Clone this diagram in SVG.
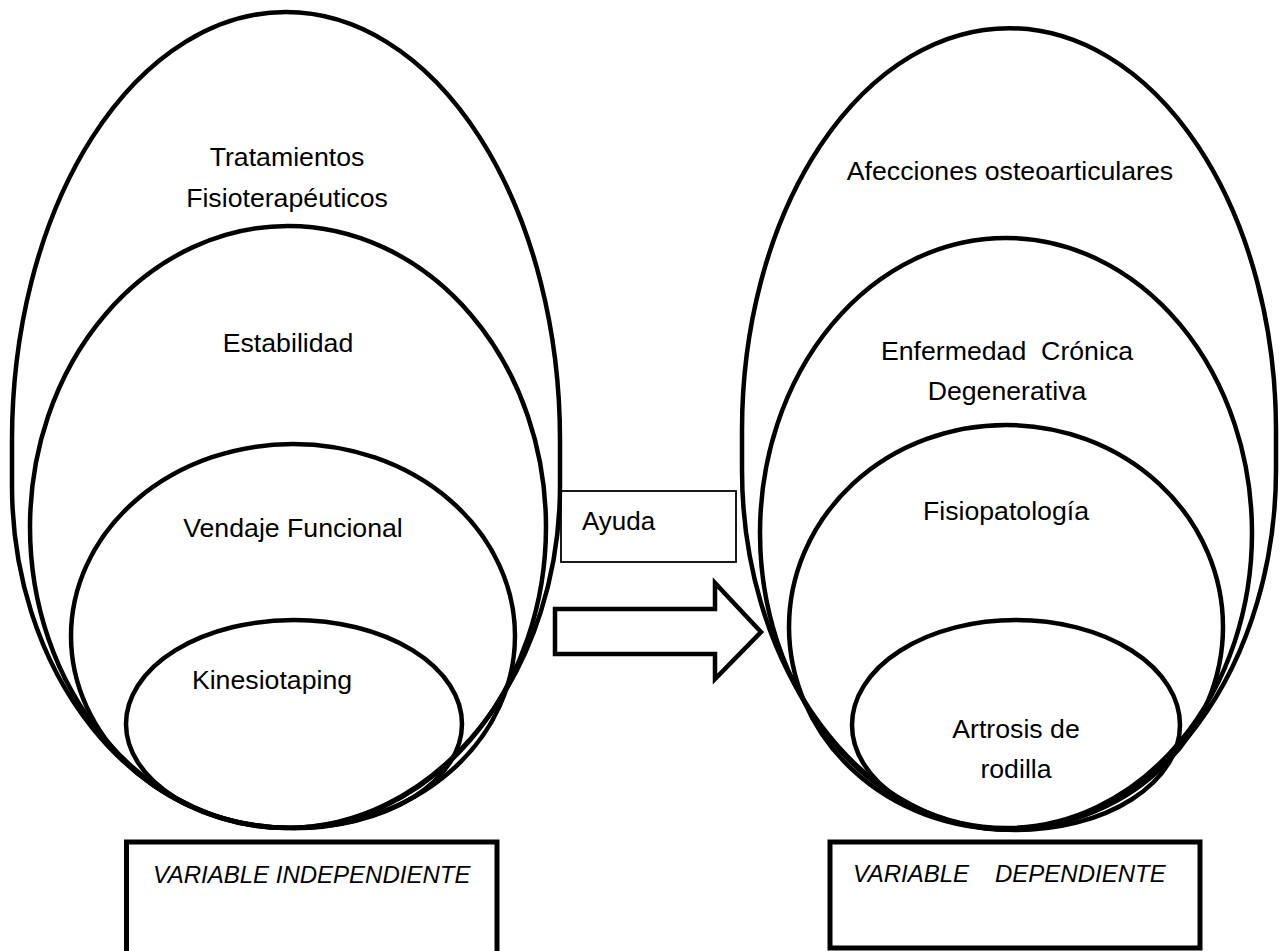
<svg xmlns="http://www.w3.org/2000/svg" width="1283" height="951" viewBox="0 0 1283 951">
<style>
.ov{fill:none;stroke:#000;stroke-width:4.5}
.t{font-family:"Liberation Sans",Arial,sans-serif;font-size:26.7px;fill:#000;text-anchor:middle}
.v{font-family:"Liberation Sans",Arial,sans-serif;font-size:24px;font-style:italic;fill:#000}
.box{fill:none;stroke:#000;stroke-width:5}
</style>
<rect width="1283" height="951" fill="#fff"/>
<g id="left">
<g id="n-tratamientos"><path class="ov" d="M12,440 A274,428 0 0 1 560,440 L560,486 A274,342 0 0 1 12,486 Z"/>
<text class="t" x="287" y="166">Tratamientos</text><text class="t" x="287" y="207">Fisioterapéuticos</text></g>
<g id="n-estabilidad"><ellipse class="ov" cx="288" cy="527" rx="258" ry="301"/>
<text class="t" x="288" y="352">Estabilidad</text></g>
<g id="n-vendaje"><ellipse class="ov" cx="293" cy="636" rx="222" ry="192"/>
<text class="t" x="293" y="537">Vendaje Funcional</text></g>
<g id="n-kinesio"><ellipse class="ov" cx="294" cy="724" rx="168" ry="104"/>
<text class="t" x="272" y="689">Kinesiotaping</text></g>
</g>
<g id="right">
<g id="n-afecciones"><path class="ov" d="M742,430 A267,402 0 0 1 1276,430 L1276,470 A267,360 0 0 1 742,470 Z"/>
<text class="t" x="1010" y="180">Afecciones osteoarticulares</text></g>
<g id="n-enfermedad"><ellipse class="ov" cx="1006" cy="533" rx="246" ry="295"/>
<text class="t" x="1007" y="360" xml:space="preserve">Enfermedad  Crónica</text><text class="t" x="1007" y="400">Degenerativa</text></g>
<g id="n-fisiopatologia"><ellipse class="ov" cx="1006" cy="627" rx="217" ry="202"/>
<text class="t" x="1006" y="520">Fisiopatología</text></g>
<g id="n-artrosis"><ellipse class="ov" cx="1016" cy="725" rx="164" ry="105"/>
<text class="t" x="1016" y="738">Artrosis de</text><text class="t" x="1016" y="778">rodilla</text></g>
</g>
<g id="n-ayuda"><rect x="561" y="491" width="175" height="71" fill="none" stroke="#000" stroke-width="1.8"/>
<text class="t" x="582" y="530" style="text-anchor:start;font-size:26px">Ayuda</text></g>
<g id="connectors">
<polygon points="555,609 715,609 715,583 761,632 715,679 715,654 555,654" fill="#fff" stroke="#000" stroke-width="4.5"/>
</g>
<g id="n-var-indep"><path class="box" d="M126.5,960 V842 H497 V960"/>
<text class="v" x="153" y="883">VARIABLE INDEPENDIENTE</text></g>
<g id="n-var-dep"><rect class="box" x="830" y="842" width="370" height="106"/>
<text class="v" y="882"><tspan x="853">VARIABLE</tspan><tspan x="995">DEPENDIENTE</tspan></text></g>
</svg>
